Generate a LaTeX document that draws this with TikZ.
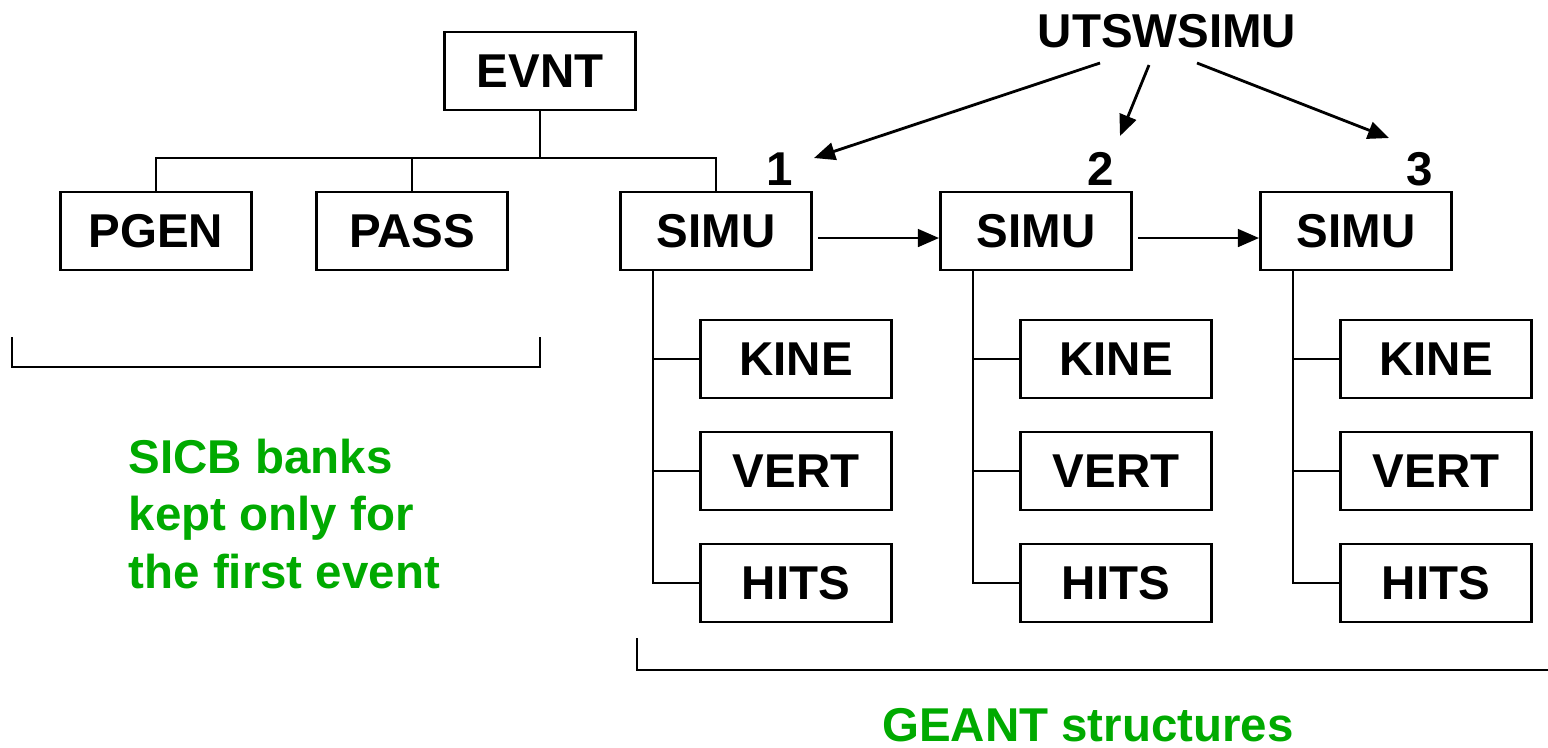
\documentclass[tikz,border=0pt]{standalone}
\usepackage{fontspec}
\setmainfont{Liberation Sans}
\usetikzlibrary{arrows.meta}
\definecolor{gr}{RGB}{0,170,0}
\begin{document}
\begin{tikzpicture}[x=0.01cm,y=-0.01cm,
  bank/.style={draw,line width=0.8pt,minimum width=1.91cm,minimum height=0.78cm,inner sep=0pt,font=\fontsize{13.5}{16}\selectfont\bfseries},
  lbl/.style={inner sep=0pt,font=\fontsize{13.5}{16}\selectfont\bfseries},
  ln/.style={line width=0.8pt},
  arr/.style={line width=0.8pt,-{Triangle[length=6pt,width=5pt]}},
  note/.style={inner sep=0pt,text=gr,font=\fontsize{13.5}{16.3}\selectfont\bfseries}]
\useasboundingbox (0,0) rectangle (1548,747);
\node[bank] (evnt) at (540,71) {EVNT};
\node[bank] (pgen) at (156,231) {PGEN};
\node[bank] (pass) at (412,231) {PASS};
\foreach \i/\x in {1/716,2/1036,3/1356}{
  \node[bank] (simu\i) at (\x,231) {SIMU};
  \node[bank] (kine\i) at (\x+80,359) {KINE};
  \node[bank] (vert\i) at (\x+80,471) {VERT};
  \node[bank] (hits\i) at (\x+80,583) {HITS};
  \coordinate (t\i) at (\x-63,270);
  \draw[ln] (t\i) |- (hits\i.west);
  \draw[ln] (t\i|-kine\i.west) -- (kine\i.west);
  \draw[ln] (t\i|-vert\i.west) -- (vert\i.west);
}
\coordinate (j) at (540,158);
\draw[ln] (evnt.south) -- (j);
\draw[ln] (pgen.north) |- (j) -| (simu1.north);
\draw[ln] (pass.north) -- (pass.north|-j);
\draw[arr] ([xshift=0.05cm,yshift=-0.07cm]simu1.east) -- ([yshift=-0.07cm]simu2.west);
\draw[arr] ([xshift=0.05cm,yshift=-0.07cm]simu2.east) -- ([yshift=-0.07cm]simu3.west);
\node[lbl] (uts) at (1167,31) {UTSWSIMU};
\node[lbl] (n1) at (780,169) {1};
\node[lbl] (n2) at (1101,169) {2};
\node[lbl] (n3) at (1420,169) {3};
\coordinate (u1) at (1100,63);
\coordinate (u2) at (1149,65);
\coordinate (u3) at (1197,63);
\draw[arr] (u1) -- (814,158);
\draw[arr] (u2) -- (1120,136);
\draw[arr] (u3) -- (1389,138);
\coordinate (b1) at (12,337);
\coordinate (b2) at (540,337);
\draw[ln] (b1) -- (12,367) -- (540,367) -- (b2);
\coordinate (c1) at (637,638);
\draw[ln] (c1) -- (637,670) -- (1548,670);
\node[note,anchor=west,align=left] (sicb) at (128,514) {SICB banks\\kept only for\\the first event};
\node[note] (geant) at (1088,725) {GEANT structures};
\end{tikzpicture}
\end{document}
